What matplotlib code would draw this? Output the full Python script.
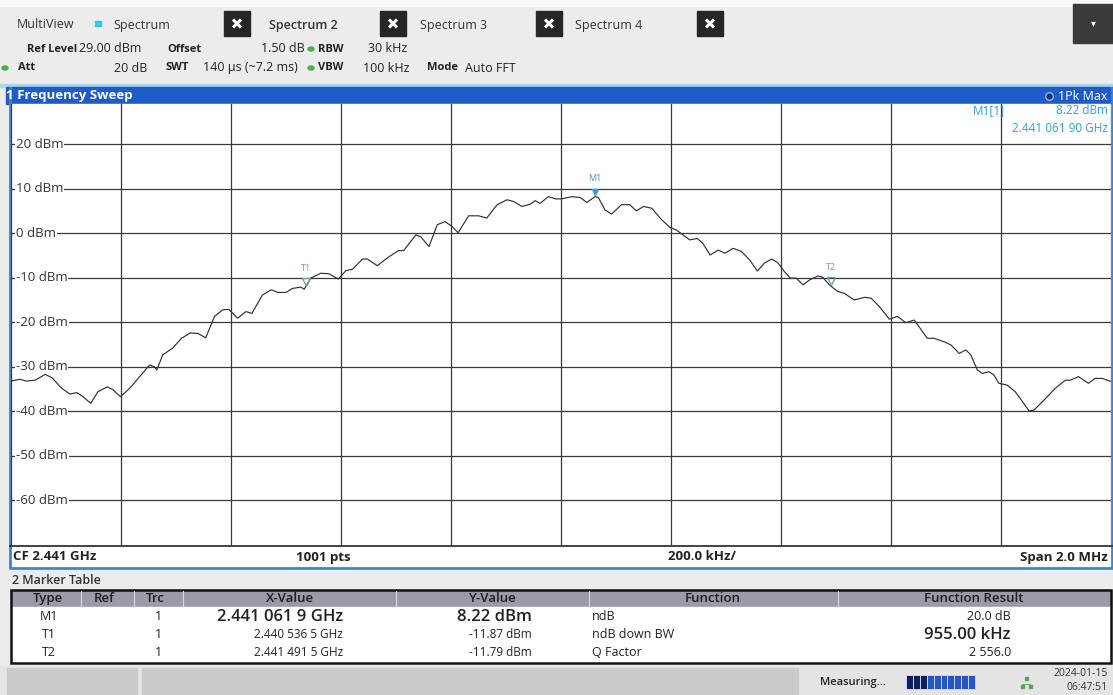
import numpy as np
import matplotlib.pyplot as plt
from matplotlib.patches import Rectangle, Ellipse
from matplotlib import transforms

plt.rcParams['font.family'] = ['Open Sans', 'DejaVu Sans']

# трасса: частота от начала полосы (2.440 GHz) в кГц, уровень в dBm
freq_khz = [0, 16, 28, 44, 62, 74, 92, 107, 120, 131,
            145, 158, 175, 185, 199, 216, 234, 252, 261, 265,
            276, 294, 310, 326, 340, 354, 370, 385, 396, 412,
            427, 438, 457, 473, 485, 500, 512, 527, 533, 545,
            563, 578, 595, 609, 621, 639, 648, 666, 687, 705,
            714, 736, 745, 760, 775, 789, 802, 813, 832, 850,
            865, 884, 902, 914, 929, 944, 953, 962, 977, 990,
            1001, 1020, 1035, 1047, 1062, 1068, 1080, 1092, 1110, 1125,
            1137, 1150, 1165, 1183, 1198, 1210, 1234, 1248, 1258, 1271,
            1286, 1298, 1313, 1328, 1343, 1357, 1370, 1383, 1394, 1406,
            1417, 1428, 1440, 1452, 1467, 1476, 1488, 1503, 1515, 1533,
            1552, 1564, 1579, 1597, 1612, 1627, 1642, 1651, 1666, 1678,
            1697, 1709, 1724, 1736, 1745, 1757, 1766, 1778, 1787, 1796,
            1811, 1826, 1839, 1851, 1860, 1878, 1899, 1917, 1926, 1941,
            1959, 1971, 1984, 2000]
level_dbm = [-33.2, -32.8, -33.2, -33.0, -31.7, -32.4, -34.8, -36.1, -35.8, -36.7,
             -38.2, -35.6, -34.5, -35.1, -36.7, -34.8, -32.2, -29.6, -30.0, -30.7,
             -27.3, -25.8, -23.6, -22.4, -22.5, -23.5, -18.7, -17.2, -17.1, -19.1,
             -17.6, -18.0, -13.9, -12.7, -13.3, -13.3, -12.4, -12.1, -12.6, -10.1,
             -9.0, -9.1, -10.3, -8.4, -8.1, -5.8, -5.8, -7.3, -5.3, -3.9,
             -3.9, -0.4, -0.8, -3.0, 1.9, 2.6, 1.5, 0.1, 3.9, 3.9,
             3.4, 6.4, 7.5, 7.1, 6.0, 6.5, 7.3, 6.7, 8.2, 7.7,
             7.7, 8.2, 8.0, 6.9, 8.22, 8.0, 5.2, 4.3, 6.4, 6.4,
             5.0, 6.0, 5.6, 3.0, 1.3, 0.7, -1.5, -1.2, -2.3, -4.9,
             -3.8, -4.5, -3.4, -4.1, -6.0, -8.5, -6.7, -5.8, -6.6, -8.6,
             -10.1, -10.1, -11.6, -10.5, -9.6, -9.9, -11.6, -13.1, -13.5, -15.0,
             -14.4, -14.6, -16.5, -19.3, -18.7, -20.1, -19.5, -21.0, -23.6, -23.6,
             -24.4, -25.1, -27.0, -26.2, -27.3, -30.7, -31.5, -31.1, -31.8, -33.7,
             -34.1, -35.6, -37.8, -39.9, -39.7, -37.5, -34.8, -33.0, -33.0, -32.2,
             -33.7, -32.6, -32.6, -33.3]

span_start_ghz = 2.440
span_khz = 2000
div_khz = 200
ref_level = 29.0
bottom_level = -70.0
y_ticks = [20, 10, 0, -10, -20, -30, -40, -50, -60]

# маркеры
marker_names = ["M1", "T1", "T2"]
marker_freq_ghz = [2.4410619, 2.4405365, 2.4414915]
marker_level = [8.22, -11.87, -11.79]

# таблица маркеров
tbl_head = ["Type", "Ref", "Trc", "X-Value", "Y-Value", "Function", "Function Result"]
tbl_type = ["M1", "T1", "T2"]
tbl_trc = ["1", "1", "1"]
tbl_x = ["2.441 061 9 GHz", "2.440 536 5 GHz", "2.441 491 5 GHz"]
tbl_y = ["8.22 dBm", "-11.87 dBm", "-11.79 dBm"]
tbl_func = ["ndB", "ndB down BW", "Q Factor"]
tbl_result = ["20.0 dB", "955.00 kHz", "2 556.0"]
tbl_bold_result = [False, True, False]

tabs = ["Spectrum", "Spectrum 2", "Spectrum 3", "Spectrum 4"]

W, H = 1113, 695
fig = plt.figure(figsize=(W / 100, H / 100), dpi=100)
fig.patch.set_facecolor('#ececec')

# фон в пикселях
bg = fig.add_axes([0, 0, 1, 1])
bg.set_xlim(0, W)
bg.set_ylim(H, 0)
bg.axis('off')


def box(a, x0, y0, x1, y1, **kw):
    a.add_patch(Rectangle((x0, y0), x1 - x0, y1 - y0, **kw))


def txt(a, x, y, s, **kw):
    kw.setdefault('va', 'center')
    kw.setdefault('fontsize', 8)
    kw.setdefault('color', '#222222')
    a.text(x, y, s, **kw)


def xbox(x0):
    box(bg, x0, 11, x0 + 26, 36, color='#262626')
    bg.plot([x0 + 9, x0 + 17], [19.5, 27.5], color='white', lw=2.2, solid_capstyle='butt')
    bg.plot([x0 + 9, x0 + 17], [27.5, 19.5], color='white', lw=2.2, solid_capstyle='butt')


# вкладки
box(bg, 0, 0, W, 6, color='#f7f7f7')
txt(bg, 17, 25, "MultiView", fontsize=9, color='#333333')
box(bg, 95, 21, 101, 26, color='#35c8de')
tab_x = [113, 269, 420, 575]
for name, x in zip(tabs, tab_x):
    txt(bg, x, 25, name, fontsize=9, color='#333333',
        fontweight='semibold' if name == "Spectrum 2" else 'normal')
for x in [224, 380, 536, 697]:
    xbox(x)
box(bg, 1073, 4, W, 43, color='#3a3a3a')
txt(bg, 1093, 24, "▾", fontsize=7, color='white', ha='center')


# строки настроек
def gdot(x, y):
    bg.add_patch(Ellipse((x, y), 6, 4, color='#4cae4c'))


lab = dict(fontsize=8, fontweight='bold')
val = dict(fontsize=9)
r1, r2 = 49, 68
txt(bg, 27, r1, "Ref Level", **lab)
txt(bg, 79, r1, "29.00 dBm", **val)
txt(bg, 167, r1, "Offset", **lab)
txt(bg, 305, r1, "1.50 dB", ha='right', **val)
gdot(311, r1)
txt(bg, 318, r1, "RBW", **lab)
txt(bg, 368, r1, "30 kHz", **val)
gdot(5, r2)
txt(bg, 18, r2, "Att", **lab)
txt(bg, 147, r2, "20 dB", ha='right', **val)
txt(bg, 166, r2, "SWT", **lab)
txt(bg, 203, r2, "140 µs (~7.2 ms)", **val)
gdot(311, r2)
txt(bg, 318, r2, "VBW", **lab)
txt(bg, 363, r2, "100 kHz", **val)
txt(bg, 427, r2, "Mode", **lab)
txt(bg, 465, r2, "Auto FFT", **val)

# синяя полоса заголовка
box(bg, 0, 84, W, 87, color='#a8d8f0')
box(bg, 6, 87, W, 104, color='#1f5cc8')
txt(bg, 6, 96, "1 Frequency Sweep", fontsize=9.5, fontweight='bold', color='white')
bg.plot([1049], [96], marker='o', ms=5.5, mfc='#16308a', mec='#8fb4f0', mew=1)
txt(bg, 1107, 96, "1Pk Max", fontsize=9, color='white', ha='right')

# белая подложка графика и полоса CF
box(bg, 10, 104, 1112, 568, color='white')
bg.plot([9.5, 9.5, 1112, 1112], [88, 568, 568, 88], color='#3c86d0', lw=2)
bg.plot([10, 1112], [545.5, 545.5], color='#222222', lw=1.2)
txt(bg, 13, 557, "CF 2.441 GHz", fontsize=9.5, fontweight='bold')
txt(bg, 296, 557, "1001 pts", fontsize=9.5, fontweight='bold')
txt(bg, 668, 557, "200.0 kHz/", fontsize=9.5, fontweight='bold')
txt(bg, 1108, 557, "Span 2.0 MHz", fontsize=9.5, fontweight='bold', ha='right')

# основной график
ax = fig.add_axes([11 / W, 1 - 545 / H, 1100 / W, (545 - 104) / H])
ax.set_facecolor('none')
ax.set_xlim(0, span_khz)
ax.set_ylim(bottom_level, ref_level)
ax.set_xticks(np.arange(0, span_khz + 1, div_khz))
ax.set_yticks(y_ticks)
ax.grid(True, color='#3a3a3a', lw=0.9, zorder=1)
ax.tick_params(length=0, labelbottom=False, labelleft=False)
for s in ax.spines.values():
    s.set_visible(False)

lab_tr = transforms.blended_transform_factory(ax.transAxes, ax.transData)
for v in y_ticks:
    ax.text(5 / 1100, v, f"{v} dBm", transform=lab_tr, ha='left', va='center',
            fontsize=9.5, color='#333333', zorder=2.5,
            bbox=dict(facecolor='white', edgecolor='none', pad=0.5))

ax.plot(freq_khz, level_dbm, color='#30303c', lw=0.85, zorder=3)

tri_tr = transforms.offset_copy(ax.transData, fig=fig, y=3.2, units='points')
for name, f, lvl in zip(marker_names, marker_freq_ghz, marker_level):
    x = (f - span_start_ghz) * 1e6
    if name.startswith("M"):
        c = '#3b9bd6'
        ax.plot(x, lvl, marker='v', ms=5, color=c, transform=tri_tr, zorder=4)
    else:
        c = '#6f9e9e'
        ax.plot(x, lvl, marker='v', ms=6, mfc='none', mec=c, mew=0.9, transform=tri_tr, zorder=4)
    ax.annotate(name, xy=(x, lvl), xytext=(0, 13), textcoords='offset points',
                ha='center', va='center', fontsize=6.5, color=c, zorder=4)

# передний план: подписи поверх графика
fg = fig.add_axes([0, 0, 1, 1])
fg.set_facecolor('none')
fg.set_xlim(0, W)
fg.set_ylim(H, 0)
fg.axis('off')
mc = '#2e9fd9'
txt(fg, 973, 111, "M1[1]", fontsize=8.5, color=mc)
txt(fg, 1108, 111, f"{marker_level[0]:.2f} dBm", fontsize=8.5, color=mc, ha='right')
txt(fg, 1108, 128, "2.441 061 90 GHz", fontsize=8.5, color=mc, ha='right')

# таблица маркеров
txt(bg, 12, 581, "2 Marker Table", fontsize=9, fontweight='semibold', color='#333333')
box(bg, 11, 590, 1111, 607, color='#9a9aa8')
box(bg, 11, 607, 1111, 663, color='white')
bg.add_patch(Rectangle((11, 590), 1100, 73, fill=False, ec='#111111', lw=1.8))
col_sep = [81, 134, 183, 396, 589, 838]
for x in col_sep:
    bg.plot([x, x], [591, 606], color='#d8d8e0', lw=0.8)
head_cx = [48, 104, 155, 290, 492, 713, 974]
for h, x in zip(tbl_head, head_cx):
    txt(bg, x, 598.5, h, fontsize=9.5, fontweight='semibold', ha='center', color='#1e1e1e')
row_y = [617, 635, 653]
for i, y in enumerate(row_y):
    big = dict(fontsize=12, fontweight='semibold') if i == 0 else dict(fontsize=8.5)
    txt(bg, 49, y, tbl_type[i], fontsize=9, ha='center')
    txt(bg, 158, y, tbl_trc[i], fontsize=9, ha='center')
    txt(bg, 343, y, tbl_x[i], ha='right', **big)
    txt(bg, 532, y, tbl_y[i], ha='right', **big)
    txt(bg, 592, y, tbl_func[i], fontsize=9)
    rb = dict(fontsize=12, fontweight='semibold') if tbl_bold_result[i] else dict(fontsize=9)
    txt(bg, 1011, y, tbl_result[i], ha='right', **rb)

# строка состояния
box(bg, 0, 666, W, H, color='#e4e4e4')
box(bg, 7, 668, 137, H, color='#cbcbcb')
box(bg, 142, 668, 798, H, color='#cbcbcb')
txt(bg, 820, 682, "Measuring...", fontsize=8, fontweight='semibold')
seg_w = 69 / 10
for k in range(10):
    bg.add_patch(Rectangle((906 + k * seg_w, 675), seg_w, 14,
                           fc='#0d1f5c' if k < 3 else '#2456c8', ec='#c8d4f0', lw=0.7))
for px, py in [(1026, 678), (1022, 686), (1030, 686)]:
    box(bg, px - 1.5, py - 1.5, px + 1.5, py + 1.5, color='#56a556')
bg.plot([1022, 1030], [684, 684], color='#56a556', lw=0.6)
txt(bg, 1108, 673, "2024-01-15", fontsize=7.5, ha='right', color='#333333')
txt(bg, 1108, 688, "06:47:51", fontsize=7.5, ha='right', color='#333333')

fig.savefig("out.png", dpi=100)
